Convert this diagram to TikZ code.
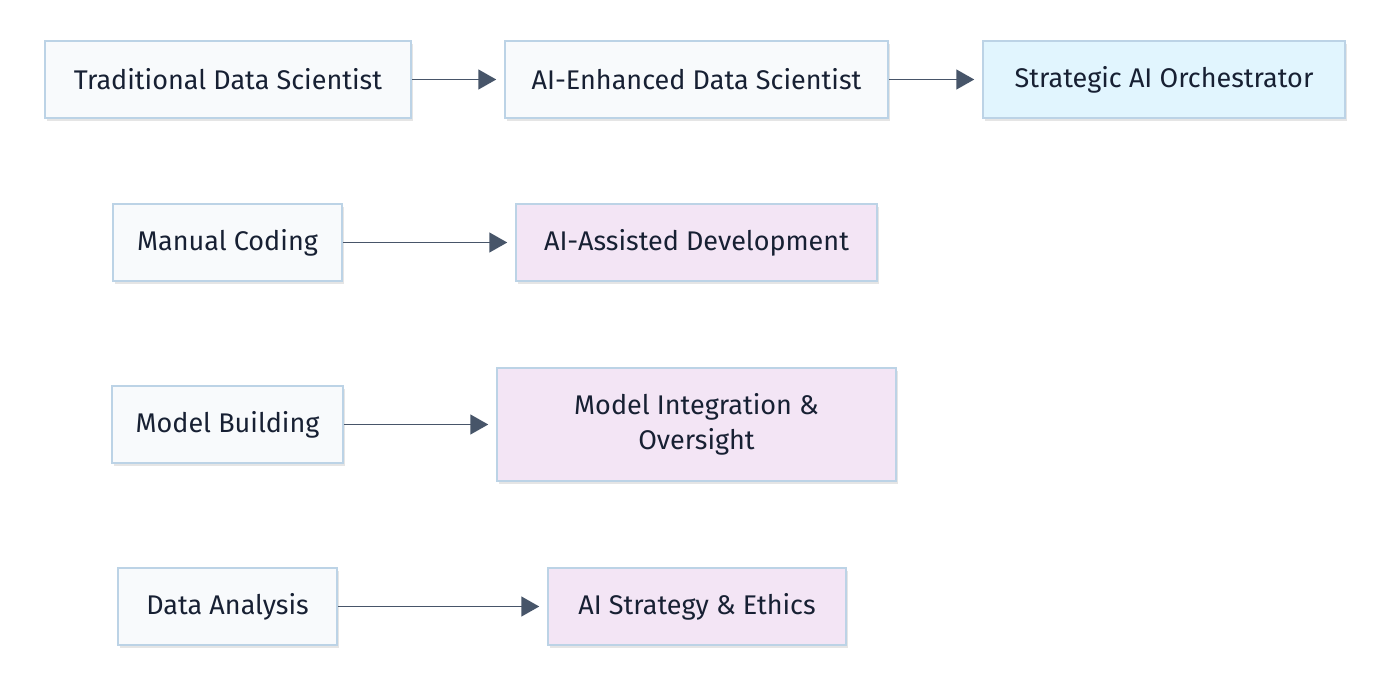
\documentclass[tikz,border=0pt]{standalone}
\usepackage{fontspec}
\setmainfont{Fira Sans}
\usetikzlibrary{arrows.meta}
\definecolor{boxline}{HTML}{BCD3E6}
\definecolor{fillgrey}{HTML}{F8FAFC}
\definecolor{fillblue}{HTML}{E1F5FE}
\definecolor{fillpink}{HTML}{F3E5F5}
\definecolor{arrowc}{HTML}{475569}
\definecolor{textc}{HTML}{172033}
\begin{document}
\begin{tikzpicture}[x=1pt,y=-1pt,
  box/.style={draw=boxline,line width=1.5pt,inner sep=0pt,align=center,
    font=\fontsize{27}{35}\selectfont,text=textc,
    preaction={fill=black,opacity=0.10,transform canvas={xshift=2pt,yshift=-2.5pt}}},
  gbox/.style={box,fill=fillgrey},
  bbox/.style={box,fill=fillblue},
  pbox/.style={box,fill=fillpink},
  conn/.style={draw=arrowc,line width=1.5pt,-{Triangle[length=18pt,width=20pt]},shorten >=8pt}]
\useasboundingbox (0,0) rectangle (1400,699);
\fill[white] (0,0) rectangle (1400,699);
\node[gbox,minimum width=366pt,minimum height=77pt] (t) at (228,79.5) {Traditional Data Scientist};
\node[gbox,minimum width=383pt,minimum height=77pt] (e) at (696.5,79.5) {AI-Enhanced Data Scientist};
\node[bbox,minimum width=362pt,minimum height=77pt] (s) at (1164,79.5) {Strategic AI Orchestrator};
\node[gbox,minimum width=229pt,minimum height=77pt] (mc) at (227.5,242.5) {Manual Coding};
\node[pbox,minimum width=361pt,minimum height=77pt] (ad) at (696.5,242.5) {AI-Assisted Development};
\node[gbox,minimum width=231pt,minimum height=77pt] (mb) at (227.5,424.5) {Model Building};
\node[pbox,minimum width=399pt,minimum height=113pt] (mi) at (696.5,424.5) {Model Integration \&\\Oversight};
\node[gbox,minimum width=219pt,minimum height=77pt] (da) at (227.5,606.5) {Data Analysis};
\node[pbox,minimum width=298pt,minimum height=77pt] (ae) at (697,606.5) {AI Strategy \& Ethics};
\draw[conn] (t) -- (e);
\draw[conn] (e) -- (s);
\draw[conn] (mc) -- (ad);
\draw[conn] (mb) -- (mi);
\draw[conn] (da) -- (ae);
\end{tikzpicture}
\end{document}
